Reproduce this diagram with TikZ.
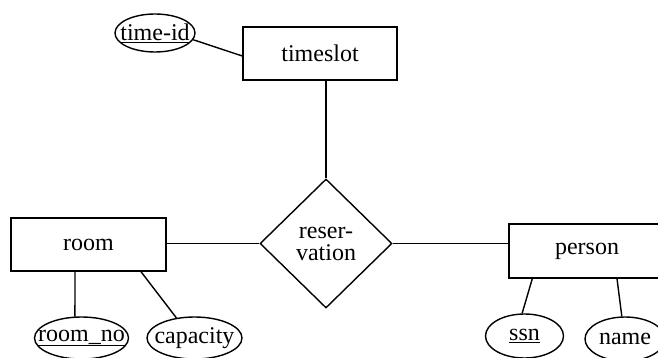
\documentclass[tikz,border=0pt]{standalone}
\usepackage{fontspec}
\setmainfont{Liberation Serif}
\usetikzlibrary{shapes.geometric}
\newcommand{\fixw}[1]{\makebox[0pt]{#1}}
\begin{document}
\begin{tikzpicture}[x=1pt,y=-1pt,line width=1.4pt,
  every node/.style={font=\fontsize{24}{26}\selectfont},
  entity/.style={draw,rectangle,inner sep=0pt},
  attr/.style={draw,ellipse,inner sep=0pt},
  rel/.style={draw,diamond,inner sep=0pt,align=center}]
\clip (0,0) rectangle (658,358);
\useasboundingbox (0,0) rectangle (658,358);
\node[entity,minimum width=154pt,minimum height=53pt] (timeslot) at (320,53.5) {timeslot};
\node[entity,minimum width=155pt,minimum height=53pt] (room) at (88.5,244.5) {room};
\node[entity,minimum width=156pt,minimum height=54pt] (person) at (587,251) {person};
\node[rel,minimum width=132pt,minimum height=129pt] (reservation) at (326,243.5) {reser-\\[-4pt]vation};
\node[attr,minimum width=80pt,minimum height=38pt] (timeid) at (155,33) {\fixw{\underline{time-id}}};
\node[attr,minimum width=94pt,minimum height=42pt] (roomno) at (81.5,338) {\fixw{\underline{room\_no}}};
\node[attr,minimum width=95pt,minimum height=42pt] (capacity) at (194.5,338) {\fixw{capacity}};
\node[attr,minimum width=78pt,minimum height=44pt] (ssn) at (524.5,336) {\fixw{\underline{ssn}}};
\node[attr,minimum width=80pt,minimum height=44pt] (name) at (625,339) {\fixw{name}};
\draw (timeid.-10.7) -- ([yshift=-2.5pt]timeslot.west);
\draw (reservation.north |- timeslot.south) -- (reservation.north);
\draw (reservation.west -| room.east) -- (reservation.west);
\draw (reservation.east) -- (reservation.east -| person.west);
\draw ([xshift=-13.5pt]room.south) -- (roomno.107);
\draw ([xshift=52.5pt]room.south) -- (capacity.132.6);
\draw ([xshift=24pt]person.south west) -- (ssn.96);
\draw ([xshift=30pt]person.south) -- (name.98);
\end{tikzpicture}
\end{document}
